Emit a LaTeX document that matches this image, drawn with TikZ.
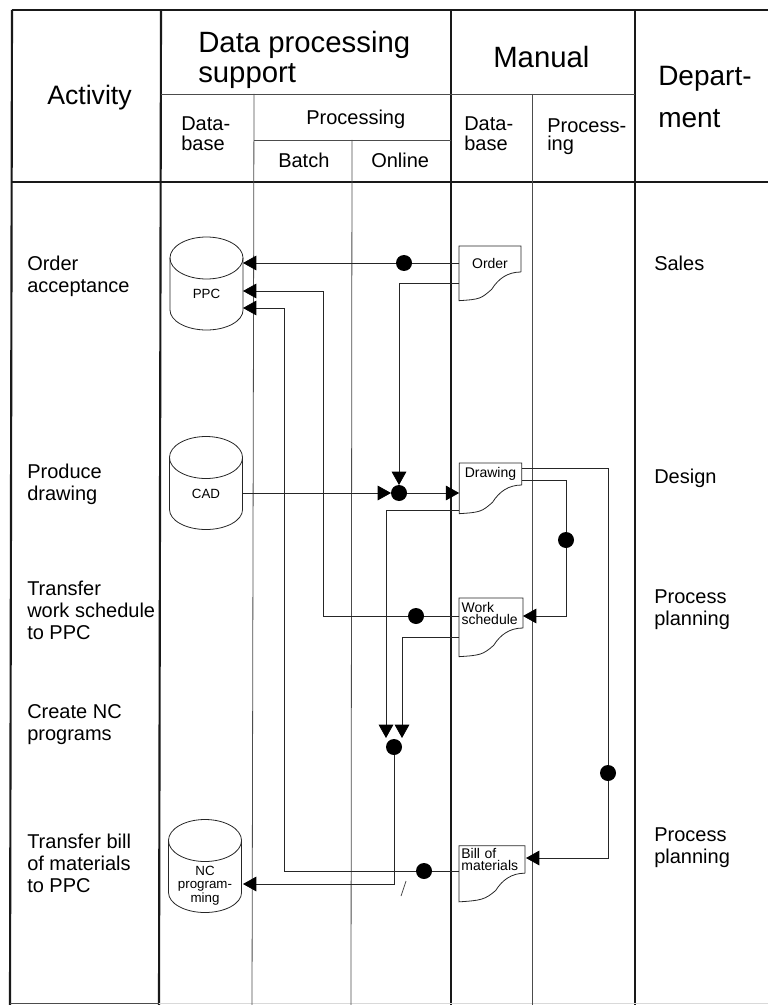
\documentclass[tikz,border=0pt]{standalone}
\usepackage{fontspec}
\setmainfont{Liberation Sans}
\usetikzlibrary{positioning,arrows.meta,calc}

\begin{document}
\begin{tikzpicture}[
  x=0.75pt, y=-0.75pt,
  heavy/.style={line width=1.6pt, draw=black!90},
  thin line/.style={line width=0.6pt, draw=black!70},
  wire/.style={line width=0.6pt, draw=black!85},
  arr/.style={wire, -{Triangle[length=10pt,width=11pt,color=black]}},
  dot/.style={circle, fill=black, minimum size=12pt, inner sep=0pt, outer sep=0pt},
  db/.style={rectangle, inner sep=0pt, outer sep=0pt, align=center,
             minimum width=54.75pt, minimum height=54pt, font=\fontsize{10}{10}\selectfont},
  doc/.style={rectangle, inner sep=0pt, outer sep=0pt, fill=white, align=left,
              font=\fontsize{10.5}{9}\selectfont},
  hdr/.style={align=left, anchor=west, inner sep=0pt, font=\fontsize{22}{22}\selectfont},
  sub/.style={align=left, anchor=west, inner sep=0pt, font=\fontsize{15}{15}\selectfont},
  lbl/.style={align=left, anchor=west, inner sep=0pt, font=\fontsize{15}{16.5}\selectfont}
]
\useasboundingbox (0,0) rectangle (768,1005);

\foreach \x/\y in {12/10,161/159,451/451,635/635}
  \draw[heavy] (\x,10) -- (\y,1005);
\draw[heavy] (12,10) -- (768,10);
\draw[heavy] (12,182) -- (768,182);
\draw[thin line] (10,1003) -- (159,1003);
\draw[line width=0.6pt, draw=black!15] (159,1003) -- (768,1003);
\draw[thin line] (161,94) -- (635,94);
\draw[thin line] (254,140) -- (451,140);
\draw[thin line] (254,94) -- (252,1005);
\draw[thin line] (352,140) -- (351,1005);
\draw[thin line] (532,94) -- (532,1005);

\node[hdr, font=\fontsize{20}{20}\selectfont] (activity) at (47,98) {Activity};
\node[hdr] (dpsupport) at (198,60) {Data processing\\support};
\node[hdr] (manual) at (493,57) {Manual};
\node[hdr, font=\fontsize{21}{32}\selectfont] (department) at (658,97) {Depart-\\ment};
\node[sub] (database) at (181,134) {Data-\\base};
\node[sub] (processing) at (306,119) {Processing};
\node[sub] (batch) at (278,160) {Batch};
\node[sub] (online) at (371,160) {Online};
\node[sub] (mandb) at (464,134) {Data-\\base};
\node[sub, font=\fontsize{15}{13.5}\selectfont] (manproc) at (547,137) {Process-\\ing};

\node[lbl] (acceptance) at (27,276) {Order\\acceptance};
\node[lbl] (produce) at (27,484) {Produce\\drawing};
\node[lbl] (transfer) at (27,610) {Transfer\\work schedule\\to PPC};
\node[lbl] (create) at (27,725) {Create NC\\programs};
\node[lbl] (transferbill) at (27,863) {Transfer bill\\of materials\\to PPC};
\node[lbl] (sales) at (654,263) {Sales};
\node[lbl] (design) at (654,478) {Design};
\node[lbl] (planA) at (654,610) {Process\\planning};
\node[lbl] (planB) at (654,848) {Process\\planning};

\node[db] (ppc) at (206.5,294) {PPC};
\node[db] (cad) at (206,493.5) {CAD};
\node[db] (nc) at (205,876.5) {\rule{0pt}{20.5pt}NC\\program-\\ming};

\foreach \n in {ppc,cad,nc} {
  \draw[wire] (\n.north west) -- ([yshift=15pt]\n.south west)
    arc[start angle=180, end angle=360, x radius=27.4pt, y radius=15pt] -- (\n.north east);
  \draw[wire] (\n.north) ellipse[x radius=27.4pt, y radius=15.75pt];
}

\node[doc, minimum width=46.5pt, minimum height=19.5pt, text height=14pt] (order) at (490,259) {Order};
\node[doc, minimum width=47pt, minimum height=16.5pt] (drawing) at (490.5,474) {Drawing};
\node[doc, minimum width=48pt, minimum height=22.5pt, text width=44pt] (schedule) at (491,613) {Work\\schedule};
\node[doc, minimum width=49.5pt, minimum height=20.5pt, text width=46pt] (bill) at (492,859.5) {Bill of\\materials};

\foreach \n in {order,drawing,schedule,bill}
  \draw[wire] (\n.south east) -- (\n.north east) -- (\n.north west) -- ([yshift=-21.5pt]\n.south west)
    .. controls +(16pt,1pt) and +(-8pt,-7pt) .. ($(\n.south east)+(-22pt,-13pt)$)
    .. controls +(5pt,8pt) and +(-10pt,0pt) .. (\n.south east);

\node[dot] (dotA) at (404,263) {};
\node[dot] (dotB) at (399,493) {};
\node[dot] (dotC) at (416,616) {};
\node[dot] (dotD) at (424,871) {};
\node[dot] (dotE) at (394,747) {};
\node[dot] (dotF) at (566,540) {};
\node[dot] (dotG) at (608,773) {};

\coordinate (orderB) at (459,283);
\coordinate (drawingA) at (522,468);
\coordinate (drawingB) at (522,480);
\coordinate (drawingC) at (459,510);
\coordinate (scheduleB) at (459,637);
\coordinate (billA) at (526,858);
\coordinate (bendC) at (323,291);
\coordinate (bendD) at (284,308);
\coordinate (tipL) at (386,738);
\coordinate (tipR) at (402,738);
\coordinate (ncA) at (243,884);

\draw[wire] (dotA -| order.west) -- (dotA);
\draw[arr] (dotA) -- (dotA -| ppc.east);
\draw[arr] (orderB) -| (dotB);
\draw[arr] (cad.east |- dotB) -- (dotB);
\draw[arr] (dotB) -- (dotB -| drawing.west);
\draw[arr] (drawingC) -| (tipL);
\draw[wire] (dotC -| schedule.west) -- (dotC);
\draw[wire] (dotC) -| (bendC);
\draw[arr] (bendC) -- (bendC -| ppc.east);
\draw[arr] (scheduleB) -| (tipR);
\draw[wire] (drawingB) -| (dotF);
\draw[arr] (dotF) |- (dotC -| schedule.east);
\draw[wire] (drawingA) -| (dotG);
\draw[arr] (dotG) |- (billA);
\draw[wire] (dotD -| bill.west) -- (dotD);
\draw[wire] (dotD) -| (bendD);
\draw[arr] (bendD) -- (bendD -| ppc.east);
\draw[arr] (dotE) |- (ncA);
\draw[thin line] (401,896) -- (406,881);
\end{tikzpicture}
\end{document}
